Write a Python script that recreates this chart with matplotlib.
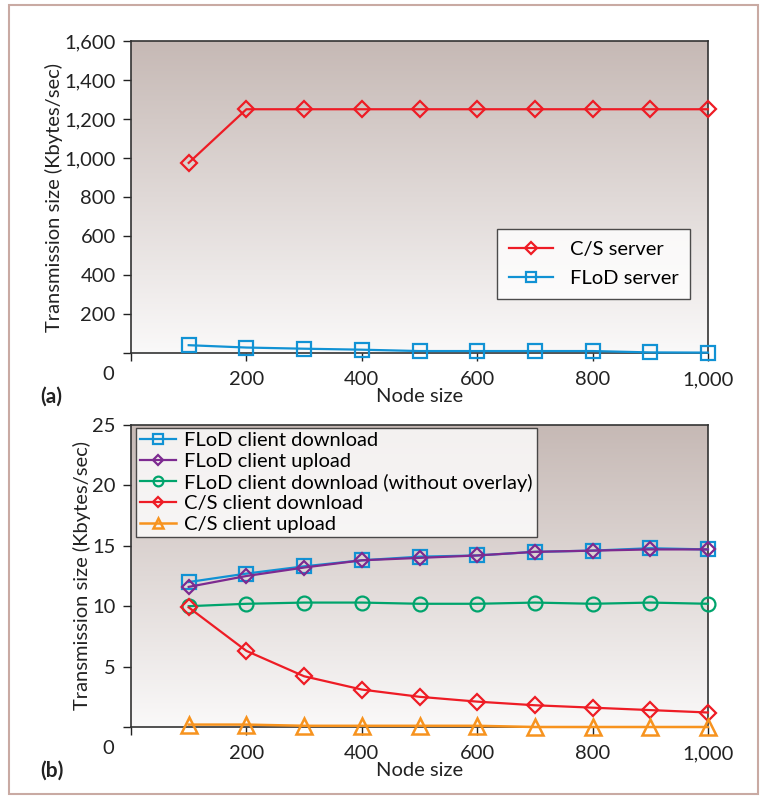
import numpy as np
import matplotlib.pyplot as plt
from matplotlib.patches import Rectangle

plt.rcParams['font.family'] = ['Lato', 'DejaVu Sans']

# Datos
nodos = [100, 200, 300, 400, 500, 600, 700, 800, 900, 1000]

cs_server = [975, 1250, 1250, 1250, 1250, 1250, 1250, 1250, 1250, 1250]
flod_server = [40, 28, 22, 17, 10, 10, 10, 10, 3, 2]

flod_down = [12.0, 12.7, 13.3, 13.8, 14.1, 14.2, 14.5, 14.6, 14.8, 14.7]
flod_up = [11.6, 12.5, 13.2, 13.8, 14.0, 14.2, 14.5, 14.6, 14.7, 14.7]
flod_down_sin = [10.0, 10.2, 10.3, 10.3, 10.2, 10.2, 10.3, 10.2, 10.3, 10.2]
cs_down = [9.9, 6.3, 4.2, 3.1, 2.5, 2.1, 1.8, 1.6, 1.4, 1.2]
cs_up = [0.2, 0.2, 0.1, 0.1, 0.1, 0.1, 0.0, 0.0, 0.0, 0.0]

xticks = [0, 200, 400, 600, 800, 1000]
xlabels = ['', '200', '400', '600', '800', '1,000']

rojo = '#ee1c25'
azul = '#1192d4'
morado = '#7d2a90'
verde = '#00a46c'
naranja = '#f7931e'

fs = 14.5

fig = plt.figure(figsize=(7.61, 7.99), dpi=100)

# Marco exterior
fig.patches.append(Rectangle((9 / 761, 5 / 799), 749 / 761, 789 / 799, transform=fig.transFigure,
                             fill=False, edgecolor='#c9aaa3', linewidth=1.5))

grad = np.linspace(0, 1, 256).reshape(-1, 1)
c_top = np.array([198, 185, 181]) / 255
c_bot = np.array([250, 249, 249]) / 255
img = c_top[None, None, :] * (1 - grad[:, :, None]) + c_bot[None, None, :] * grad[:, :, None]


def estilo(ax, ymax, yticks, ylabels):
    ax.imshow(img, extent=[0, 1, 0, 1], transform=ax.transAxes, aspect='auto', zorder=0)
    ax.set_xlim(0, 1000)
    ax.set_ylim(0, ymax)
    ax.set_xticks(xticks)
    ax.set_xticklabels(xlabels)
    ax.set_yticks(yticks)
    ax.set_yticklabels(ylabels)
    ax.tick_params(axis='both', labelsize=fs, direction='out', length=6, width=1, colors='#222222')
    ax.tick_params(axis='x', pad=7)
    ax.tick_params(axis='y', pad=5)
    for s in ax.spines.values():
        s.set_color('#333333')
        s.set_linewidth(1.2)
    ax.set_ylabel('Transmission size (Kbytes/sec)', fontsize=fs, color='#222222', labelpad=1)
    ax.set_xlabel('Node size', fontsize=fs, color='#222222', labelpad=0)
    ax.text(-0.04, -0.07, '0', transform=ax.transAxes, fontsize=fs, ha='center', va='center', color='#222222')


# Gráfica (a)
ax1 = fig.add_axes([131 / 761, (799 - 353) / 799, 577 / 761, 312 / 799])
estilo(ax1, 1600, [0, 200, 400, 600, 800, 1000, 1200, 1400, 1600],
       ['', '200', '400', '600', '800', '1,000', '1,200', '1,400', '1,600'])
ax1.plot(nodos, cs_server, color=rojo, marker='D', markersize=8, mfc='none', mew=1.6, lw=1.6,
         label='C/S server', clip_on=False, zorder=3)
ax1.plot(nodos, flod_server, color=azul, marker='s', markersize=10, mfc='none', mew=1.6, lw=1.6,
         label='FLoD server', clip_on=False, zorder=3)
leg1 = ax1.legend(loc='upper left', bbox_to_anchor=((497 - 131) / 577, (353 - 229) / 312),
                  fontsize=fs, frameon=True, fancybox=False, edgecolor='#222222',
                  handlelength=2.2, borderpad=0.6, labelspacing=0.6, markerscale=0.75,
                  borderaxespad=0)
leg1.get_frame().set_linewidth(1.0)
fig.text(40 / 761, 1 - 397 / 799, '(a)', fontsize=fs + 0.5, fontweight='bold', ha='left', va='center', color='#222222')

# Gráfica (b)
ax2 = fig.add_axes([131 / 761, (799 - 727) / 799, 577 / 761, 302 / 799])
estilo(ax2, 25, [0, 5, 10, 15, 20, 25], ['', '5', '10', '15', '20', '25'])
ax2.plot(nodos, flod_down, color=azul, marker='s', markersize=10, mfc='none', mew=1.6, lw=1.6,
         label='FLoD client download', clip_on=False, zorder=3)
ax2.plot(nodos, flod_up, color=morado, marker='D', markersize=7, mfc='none', mew=1.6, lw=1.6,
         label='FLoD client upload', clip_on=False, zorder=4)
ax2.plot(nodos, flod_down_sin, color=verde, marker='o', markersize=10, mfc='none', mew=1.6, lw=1.6,
         label='FLoD client download (without overlay)', clip_on=False, zorder=3)
ax2.plot(nodos, cs_down, color=rojo, marker='D', markersize=8, mfc='none', mew=1.6, lw=1.6,
         label='C/S client download', clip_on=False, zorder=3)
ax2.plot(nodos, cs_up, color=naranja, marker='^', markersize=11, mfc='none', mew=1.8, lw=1.8,
         label='C/S client upload', clip_on=False, zorder=3)
leg2 = ax2.legend(loc='upper left', bbox_to_anchor=(5 / 577, 1 - 3 / 302),
                  fontsize=fs, frameon=True, fancybox=False, edgecolor='#222222',
                  handlelength=1.8, borderpad=0.2, labelspacing=0.18, markerscale=0.7,
                  handletextpad=0.4, borderaxespad=0)
leg2.get_frame().set_linewidth(1.0)
fig.text(40 / 761, 1 - 771 / 799, '(b)', fontsize=fs + 0.5, fontweight='bold', ha='left', va='center', color='#222222')

fig.savefig('out.png', dpi=100, facecolor='white')
